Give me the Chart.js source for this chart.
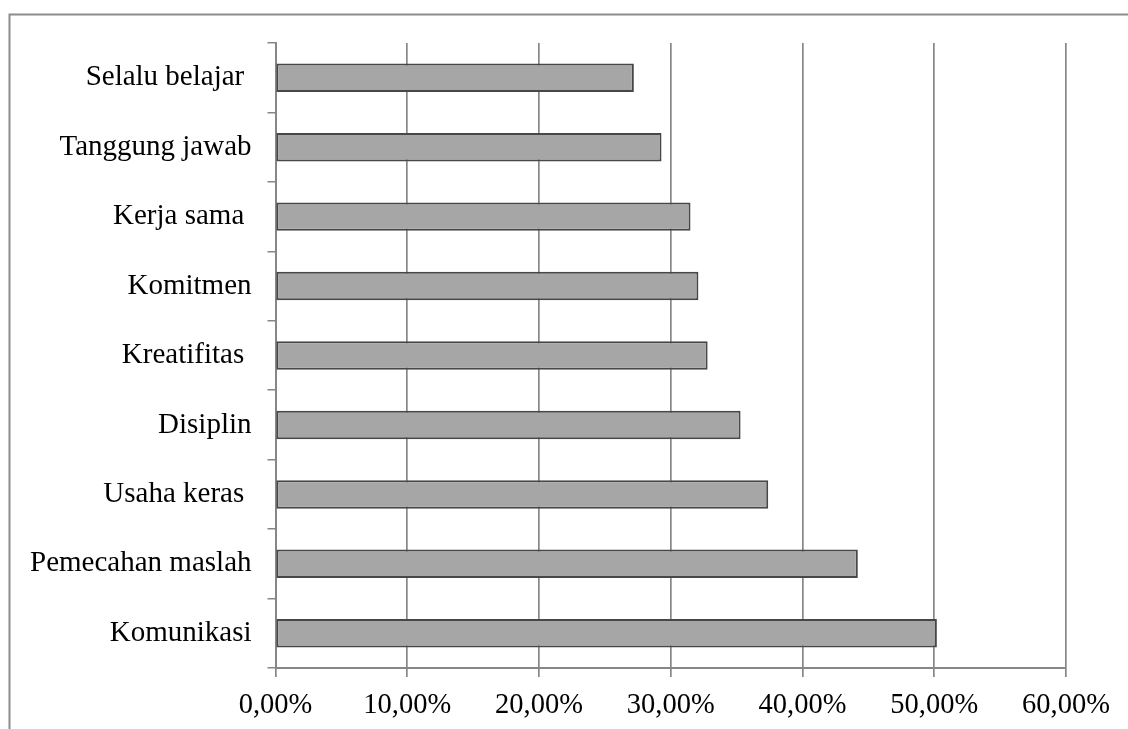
<!DOCTYPE html>
<html>
<head>
<meta charset="utf-8">
<title>Kompetensi</title>
<script src="https://cdn.jsdelivr.net/npm/chart.js@4.4.1/dist/chart.umd.min.js"></script>
<style>
  html, body { margin: 0; padding: 0; background: #ffffff; }
  #wrap { position: relative; width: 1128px; height: 729px; }
</style>
</head>
<body>
<div id="wrap"><canvas id="chart" width="1128" height="729"></canvas></div>
<script>
// Categories (top to bottom) and their percentages
const categories = [
  "Selalu belajar ",
  "Tanggung jawab",
  "Kerja sama ",
  "Komitmen",
  "Kreatifitas ",
  "Disiplin",
  "Usaha keras ",
  "Pemecahan maslah",
  "Komunikasi"
];
const percentages = [27.2, 29.3, 31.5, 32.1, 32.8, 35.3, 37.4, 44.2, 50.2];

// Value axis ticks
const tickValues = [0, 10, 20, 30, 40, 50, 60];
const tickLabels = ["0,00%", "10,00%", "20,00%", "30,00%", "40,00%", "50,00%", "60,00%"];

const axisGray = "#878787";
const serif = "'Liberation Serif', 'Times New Roman', serif";

// Outer frame line along the top and left edges of the canvas
const framePlugin = {
  id: "frame",
  beforeDraw(chart) {
    const ctx = chart.ctx;
    ctx.save();
    ctx.strokeStyle = "#8c8c8c";
    ctx.lineWidth = 2;
    ctx.beginPath();
    ctx.moveTo(9.5, 729);
    ctx.lineTo(9.5, 14.5);
    ctx.lineTo(1128, 14.5);
    ctx.stroke();
    ctx.restore();
  }
};

new Chart(document.getElementById("chart"), {
  type: "bar",
  data: {
    labels: categories,
    datasets: [{
      data: percentages,
      backgroundColor: "#a6a6a6",
      borderColor: "#474747",
      borderWidth: 2,
      borderSkipped: false,
      barPercentage: 0.41,
      categoryPercentage: 1.0
    }]
  },
  options: {
    indexAxis: "y",
    responsive: false,
    animation: false,
    events: [],
    layout: { padding: { top: 43, right: 62, left: 0, bottom: 0 } },
    plugins: {
      legend: { display: false },
      tooltip: { enabled: false }
    },
    scales: {
      x: {
        min: 0,
        max: 60,
        afterBuildTicks(scale) {
          scale.ticks = tickValues.map(v => ({ value: v }));
        },
        afterFit(scale) { scale.height = 61; },
        grid: {
          color: axisGray,
          lineWidth: 1.7,
          drawTicks: true,
          tickLength: 9
        },
        border: { display: true, color: axisGray, width: 2 },
        ticks: {
          color: "#000000",
          padding: 11,
          maxRotation: 0,
          font: { family: serif, size: 28.5 },
          callback: (v) => tickLabels[tickValues.indexOf(v)]
        }
      },
      y: {
        afterFit(scale) { scale.width = 275.5; },
        grid: {
          color: axisGray,
          lineWidth: 1.5,
          drawOnChartArea: false,
          drawTicks: true,
          tickLength: 8,
          offset: true
        },
        border: { display: true, color: axisGray, width: 2 },
        ticks: {
          color: "#000000",
          padding: 16,
          font: { family: serif, size: 29 }
        }
      }
    }
  },
  plugins: [framePlugin]
});
</script>
</body>
</html>
